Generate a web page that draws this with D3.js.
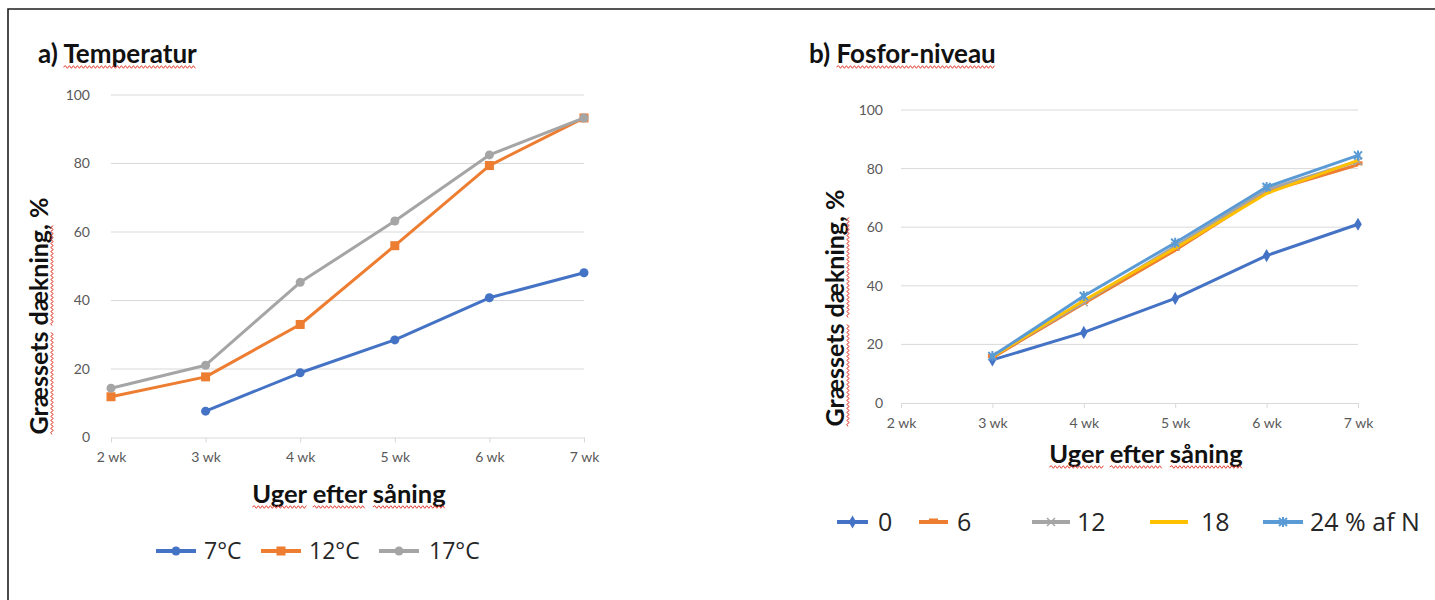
<!DOCTYPE html>
<html>
<head>
<meta charset="utf-8">
<script src="https://cdn.jsdelivr.net/npm/d3@7"></script>
<style>
  body { margin: 0; background: #fff; }
  svg { display: block; }
</style>
</head>
<body>
<div id="chart"></div>
<script>
// categories
var weeks = ["2 wk", "3 wk", "4 wk", "5 wk", "6 wk", "7 wk"];
var yTicks = [0, 20, 40, 60, 80, 100];

// a) temperatur
var temp7 = [null, 7.7, 18.9, 28.5, 40.8, 48.1];
var temp12 = [11.9, 17.7, 33.0, 56.0, 79.4, 93.3];
var temp17 = [14.4, 21.1, 45.3, 63.2, 82.5, 93.3];
var tempNames = ["7°C", "12°C", "17°C"];

// b) fosfor-niveau
var phos0 = [null, 14.7, 24.1, 35.7, 50.3, 61.0];
var phos6 = [null, 15.5, 34.0, 52.1, 72.0, 81.3];
var phos12 = [null, 16.0, 34.4, 53.5, 72.8, 82.5];
var phos18 = [null, 15.8, 35.0, 52.8, 71.5, 82.8];
var phos24 = [null, 16.0, 36.5, 54.7, 73.7, 84.5];
var phosNames = ["0", "6", "12", "18", "24 % af N"];

const WIDTH = 1435;
const HEIGHT = 600;
const BOLD = "Lato, 'Open Sans', sans-serif";
const LEG = "'Open Sans', Lato, sans-serif";

var svg = d3.select("#chart").append("svg")
    .attr("width", WIDTH)
    .attr("height", HEIGHT);

// page frame (top and left edge only)
svg.append("path")
    .attr("d", "M8,600 L8,9 L1435,9")
    .attr("fill", "none")
    .attr("stroke", "#1e1e1e")
    .attr("stroke-width", 1.6);

var wavy = function (g, x1, x2, y) {
    var d = "M" + x1 + "," + y;
    var up = true;
    for (var x = x1 + 2; x <= x2; x += 2) {
        d += " L" + x + "," + (y + (up ? -1.3 : 1.3));
        up = !up;
    }
    g.append("path").attr("d", d)
        .attr("fill", "none")
        .attr("stroke", "#e04030")
        .attr("stroke-width", 1);
};

// text with red spell-check squiggles under some words
var label = function (g, x, y, str, size, anchor, words) {
    var t = g.append("text")
        .attr("x", x)
        .attr("y", y)
        .attr("text-anchor", anchor)
        .attr("font-family", BOLD)
        .attr("font-weight", "bold")
        .attr("font-size", size)
        .attr("fill", "#111")
        .text(str);
    var node = t.node();
    words.forEach(function (w) {
        var i = str.indexOf(w);
        var a = node.getStartPositionOfChar(i).x;
        var b = node.getEndPositionOfChar(i + w.length - 1).x;
        wavy(g, a, b, y + 4);
    });
};

var marker = function (g, type, color, x, y) {
    if (type === "circle") {
        g.append("circle").attr("cx", x).attr("cy", y).attr("r", 4.5).attr("fill", color);
    } else if (type === "square") {
        g.append("rect").attr("x", x - 4.5).attr("y", y - 4.5).attr("width", 9).attr("height", 9).attr("fill", color);
    } else if (type === "diamond") {
        g.append("path").attr("d", d3.symbol(d3.symbolDiamond, 50)()).attr("transform", "translate(" + x + "," + y + ")").attr("fill", color);
    } else if (type === "dash") {
        g.append("rect").attr("x", x - 4.5).attr("y", y - 3.5).attr("width", 9).attr("height", 4).attr("fill", color);
    } else if (type === "x") {
        g.append("path").attr("d", "M-4,-4L4,4M-4,4L4,-4").attr("transform", "translate(" + x + "," + y + ")")
            .attr("stroke", color).attr("stroke-width", 1.5);
    } else if (type === "star") {
        g.append("path").attr("d", "M-4,-4L4,4M-4,4L4,-4M0,-5L0,5").attr("transform", "translate(" + x + "," + y + ")")
            .attr("stroke", color).attr("stroke-width", 2);
        g.append("circle").attr("cx", x).attr("cy", y).attr("r", 2.5).attr("fill", color);
    }
};

var drawPanel = function (cfg) {
    var g = svg.append("g");
    var xScale = d3.scalePoint().domain(weeks).range([cfg.x0, cfg.x1]);
    var yScale = d3.scaleLinear().domain([0, 100]).range([cfg.y0, cfg.y1]);

    // gridlines
    g.selectAll(".grid").data(yTicks.slice(1)).enter().append("line")
        .attr("x1", cfg.x0).attr("x2", cfg.x1)
        .attr("y1", function (d) { return yScale(d); })
        .attr("y2", function (d) { return yScale(d); })
        .attr("stroke", "#d9d9d9").attr("stroke-width", 1);

    // x axis
    var xAxis = d3.axisBottom(xScale).tickSize(5).tickSizeOuter(0).tickPadding(10);
    var ax = g.append("g").attr("transform", "translate(0," + cfg.y0 + ")").call(xAxis);
    ax.select(".domain").attr("stroke", "#d9d9d9");
    ax.selectAll(".tick line").attr("stroke", "#d9d9d9");
    ax.selectAll("text").attr("font-family", BOLD).attr("font-size", 14).attr("fill", "#595959");

    // y axis
    var yAxis = d3.axisLeft(yScale).tickValues(yTicks).tickSize(0).tickPadding(cfg.ypad);
    var ay = g.append("g").attr("transform", "translate(" + cfg.x0 + ",0)").call(yAxis);
    ay.select(".domain").remove();
    ay.selectAll("text").attr("font-family", BOLD).attr("font-size", 14).attr("fill", "#595959");

    // series
    cfg.series.forEach(function (s) {
        var pts = s.values.map(function (v, i) { return [weeks[i], v]; })
            .filter(function (p) { return p[1] !== null; });
        var line = d3.line()
            .x(function (p) { return xScale(p[0]); })
            .y(function (p) { return yScale(p[1]); });
        g.append("path").attr("d", line(pts))
            .attr("fill", "none")
            .attr("stroke", s.color)
            .attr("stroke-width", 3)
            .attr("stroke-linejoin", "round");
        pts.forEach(function (p) {
            marker(g, s.marker, s.color, xScale(p[0]), yScale(p[1]));
        });
    });

    // titles
    label(g, cfg.titleX, cfg.titleY, cfg.title, 26, "start", [cfg.titleWord]);
    label(g, cfg.xtX, cfg.xtY, "Uger efter såning", 25.5, "middle", ["Uger", "efter", "såning"]);
    var gy = g.append("g").attr("transform", "translate(" + cfg.ytX + "," + cfg.ytY + ") rotate(-90)");
    label(gy, 0, 0, "Græssets dækning, %", 25, "middle", ["Græssets", "dækning,"]);

    // legend
    cfg.series.forEach(function (s, i) {
        var L = cfg.legend[i];
        g.append("line").attr("x1", L[0]).attr("x2", L[1])
            .attr("y1", cfg.legY).attr("y2", cfg.legY)
            .attr("stroke", s.color).attr("stroke-width", 4);
        marker(g, s.marker, s.color, (L[0] + L[1]) / 2, cfg.legY);
        g.append("text").attr("x", L[2]).attr("y", cfg.legY)
            .attr("dy", "0.36em")
            .attr("font-family", LEG)
            .attr("font-size", cfg.legSize)
            .attr("fill", "#262626")
            .text(s.name);
    });
};

drawPanel({
    x0: 111, x1: 584, y0: 437.5, y1: 95, ypad: 21,
    title: "a) Temperatur", titleWord: "Temperatur", titleX: 38, titleY: 63,
    xtX: 349, xtY: 503, ytX: 48, ytY: 316,
    legY: 551, legSize: 23,
    legend: [[156, 196, 204], [261, 301, 309], [379, 419, 429]],
    series: [
        { name: tempNames[0], values: temp7, color: "#4472c4", marker: "circle" },
        { name: tempNames[1], values: temp12, color: "#ed7d31", marker: "square" },
        { name: tempNames[2], values: temp17, color: "#a5a5a5", marker: "circle" }
    ]
});

drawPanel({
    x0: 901, x1: 1358, y0: 403, y1: 110, ypad: 18,
    title: "b) Fosfor-niveau", titleWord: "Fosfor-niveau", titleX: 809, titleY: 63,
    xtX: 1146, xtY: 463, ytX: 844, ytY: 308,
    legY: 522, legSize: 25,
    legend: [[837, 868, 878], [919, 948, 957], [1032, 1070, 1077], [1150, 1188, 1201], [1263, 1303, 1310]],
    series: [
        { name: phosNames[0], values: phos0, color: "#4472c4", marker: "diamond" },
        { name: phosNames[1], values: phos6, color: "#ed7d31", marker: "dash" },
        { name: phosNames[2], values: phos12, color: "#a5a5a5", marker: "x" },
        { name: phosNames[3], values: phos18, color: "#ffc000", marker: "none" },
        { name: phosNames[4], values: phos24, color: "#5b9bd5", marker: "star" }
    ]
});
</script>
</body>
</html>
